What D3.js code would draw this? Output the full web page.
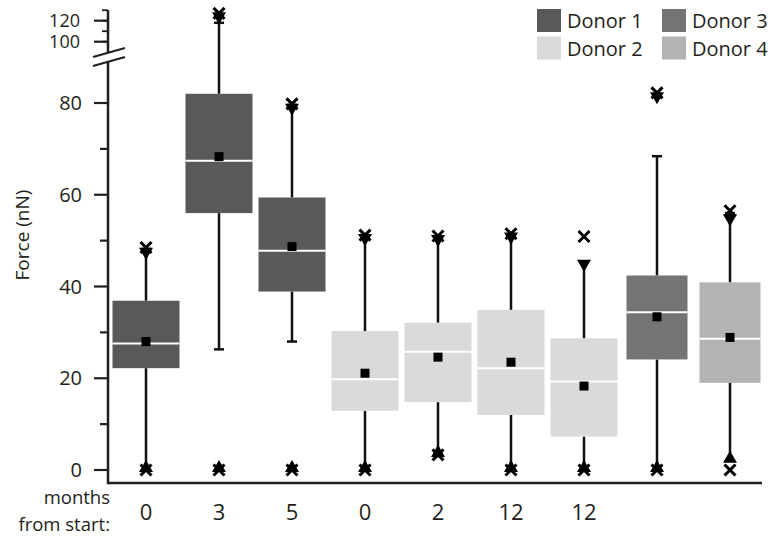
<!DOCTYPE html>
<html lang="en">
<head>
    <meta charset="UTF-8">
    <title>Force by donor</title>
    <script src="https://cdn.jsdelivr.net/npm/d3@7/dist/d3.min.js"></script>
    <style>
        body { margin: 0; background: #fff; }
        text { font-family: "Open Sans", "Liberation Sans", sans-serif; fill: #231f20; }
    </style>
</head>
<body>
    <div id="root"></div>
    <script>
        // one entry per box, left to right
        const donors    = [1, 1, 1, 2, 2, 2, 2, 3, 4];
        const months    = ['0', '3', '5', '0', '2', '12', '12', '', ''];
        const q1        = [22.2, 56.0, 38.9, 12.9, 14.8, 12.0, 7.3, 24.1, 19.0];
        const median    = [27.6, 67.4, 47.8, 19.8, 25.8, 22.2, 19.3, 34.4, 28.6];
        const q3        = [36.9, 82.0, 59.4, 30.3, 32.1, 34.9, 28.7, 42.4, 40.9];
        const mean      = [28.0, 68.3, 48.7, 21.1, 24.6, 23.5, 18.3, 33.4, 28.9];
        const whiskerLo = [0, 26.3, 28.0, 0, 3.3, 0, 0, 0, 2.0];
        const whiskerHi = [48.2, 118, 79.6, 51.0, 50.9, 51.4, 45.4, 68.4, 56.0];
        const pLo       = [0, 0, 0, 0, 3.3, 0, 0, 0, 2.0];   // up triangle
        const minV      = [0, 0, 0, 0, 3.3, 0, 0, 0, 0];     // x
        const pHi       = [48.0, 126, 79.4, 51.0, 50.8, 51.3, 45.4, 81.9, 55.3]; // down triangle
        const maxV      = [48.5, 127, 79.8, 51.2, 51.0, 51.5, 50.9, 82.2, 56.5]; // x

        const donorNames  = ['Donor 1', 'Donor 2', 'Donor 3', 'Donor 4'];
        const donorColors = ['#59595b', '#d9dadc', '#747476', '#b2b3b5'];
        const lowTicks   = [0, 20, 40, 60, 80];
        const lowMinor   = [10, 30, 50, 70];
        const topTicks   = [100, 120];
        const topMinor   = [100, 110, 120, 130];

        const width = 771, height = 540;
        const axisX = 108, baseY = 483;

        const svg = d3.select('#root').append('svg')
            .attr('width', width)
            .attr('height', height);

        const x = d3.scalePoint()
            .domain(d3.range(donors.length))
            .range([109.5, 766.5])
            .padding(0.5);

        const yLow = d3.scaleLinear().domain([0, 80]).range([470, 103]);
        const yTop = d3.scaleLinear().domain([100, 130]).range([41.7, 10.2]);
        const yPos = v => v > 95 ? yTop(v) : yLow(v);

        const color = d3.scaleOrdinal().domain([1, 2, 3, 4]).range(donorColors);
        const boxW = d => d >= 3 ? 61 : 67;

        // axes lines
        svg.append('line')
            .attr('x1', axisX).attr('x2', 762)
            .attr('y1', baseY).attr('y2', baseY)
            .attr('stroke', '#231f20').attr('stroke-width', 2.5);
        svg.append('line')
            .attr('x1', axisX).attr('x2', axisX)
            .attr('y1', baseY + 1.2).attr('y2', 62)
            .attr('stroke', '#231f20').attr('stroke-width', 2.5);
        svg.append('line')
            .attr('x1', axisX).attr('x2', axisX)
            .attr('y1', 52).attr('y2', yTop(130))
            .attr('stroke', '#231f20').attr('stroke-width', 2.5);

        // lower ticks
        svg.selectAll('.tick-major').data(lowTicks).enter().append('line')
            .attr('x1', 94).attr('x2', axisX)
            .attr('y1', d => yLow(d)).attr('y2', d => yLow(d))
            .attr('stroke', '#231f20').attr('stroke-width', 2.2);
        svg.selectAll('.tick-minor').data(lowMinor).enter().append('line')
            .attr('x1', 100).attr('x2', axisX)
            .attr('y1', d => yLow(d)).attr('y2', d => yLow(d))
            .attr('stroke', '#231f20').attr('stroke-width', 2.2);
        svg.selectAll('.lab-low').data(lowTicks).enter().append('text')
            .attr('x', 82).attr('y', d => yLow(d) + 7)
            .attr('text-anchor', 'end')
            .attr('font-size', 20)
            .text(d => d);

        // upper ticks
        svg.selectAll('.tick-top').data(topTicks).enter().append('line')
            .attr('x1', 94).attr('x2', axisX)
            .attr('y1', d => yTop(d)).attr('y2', d => yTop(d))
            .attr('stroke', '#231f20').attr('stroke-width', 2.2);
        svg.selectAll('.tick-top-minor').data(topMinor).enter().append('line')
            .attr('x1', axisX).attr('x2', axisX - 6)
            .attr('y1', d => yTop(d)).attr('y2', d => yTop(d))
            .attr('stroke', '#231f20').attr('stroke-width', 1.8);
        svg.selectAll('.lab-top').data(topTicks).enter().append('text')
            .attr('x', 80).attr('y', d => yTop(d) + 6)
            .attr('text-anchor', 'end')
            .attr('font-size', 18)
            .text(d => d);

        // axis break
        svg.append('polygon')
            .attr('points', '93,57 125,48 125,57 93,66')
            .attr('fill', '#fff');
        svg.append('line')
            .attr('x1', 93).attr('y1', 57).attr('x2', 125).attr('y2', 48)
            .attr('stroke', '#231f20').attr('stroke-width', 2.2);
        svg.append('line')
            .attr('x1', 93).attr('y1', 66).attr('x2', 125).attr('y2', 57)
            .attr('stroke', '#231f20').attr('stroke-width', 2.2);

        // y label
        svg.append('text')
            .attr('transform', 'translate(29,235) rotate(-90)')
            .attr('text-anchor', 'middle')
            .attr('font-size', 19)
            .text('Force (nN)');

        const idx = d3.range(donors.length);
        const g = svg.append('g');

        // whiskers
        g.selectAll('.wh-hi').data(idx).enter().append('line')
            .attr('x1', i => x(i)).attr('x2', i => x(i))
            .attr('y1', i => yPos(q3[i])).attr('y2', i => yPos(whiskerHi[i]))
            .attr('stroke', '#111').attr('stroke-width', 2.5);
        g.selectAll('.wh-lo').data(idx).enter().append('line')
            .attr('x1', i => x(i)).attr('x2', i => x(i))
            .attr('y1', i => yPos(q1[i])).attr('y2', i => yPos(whiskerLo[i]))
            .attr('stroke', '#111').attr('stroke-width', 2.5);
        g.selectAll('.cap').data(idx.flatMap(i => [[i, whiskerHi[i]], [i, whiskerLo[i]]])).enter().append('line')
            .attr('x1', d => x(d[0]) - 5).attr('x2', d => x(d[0]) + 5)
            .attr('y1', d => yPos(d[1])).attr('y2', d => yPos(d[1]))
            .attr('stroke', '#111').attr('stroke-width', 2.5);

        // boxes
        g.selectAll('.box').data(idx).enter().append('rect')
            .attr('x', i => x(i) - boxW(donors[i]) / 2)
            .attr('width', i => boxW(donors[i]))
            .attr('y', i => yPos(q3[i]))
            .attr('height', i => yPos(q1[i]) - yPos(q3[i]))
            .attr('fill', i => color(donors[i]));
        g.selectAll('.med').data(idx).enter().append('line')
            .attr('x1', i => x(i) - boxW(donors[i]) / 2)
            .attr('x2', i => x(i) + boxW(donors[i]) / 2)
            .attr('y1', i => yPos(median[i])).attr('y2', i => yPos(median[i]))
            .attr('stroke', '#fff').attr('stroke-width', 2);
        g.selectAll('.mean').data(idx).enter().append('rect')
            .attr('x', i => x(i) - 4.5).attr('y', i => yPos(mean[i]) - 4.5)
            .attr('width', 9).attr('height', 9)
            .attr('fill', '#000');

        // markers
        const tri = d3.symbol().type(d3.symbolTriangle).size(85);
        g.selectAll('.p-lo').data(idx).enter().append('path')
            .attr('d', tri)
            .attr('transform', i => `translate(${x(i)},${yPos(pLo[i]) - 2})`)
            .attr('fill', '#000');
        g.selectAll('.p-hi').data(idx).enter().append('path')
            .attr('d', tri)
            .attr('transform', i => `translate(${x(i)},${yPos(pHi[i]) + 2}) rotate(180)`)
            .attr('fill', '#000');
        const cross = (cx, cy) => `M${cx - 5.5},${cy - 5.5}L${cx + 5.5},${cy + 5.5}M${cx - 5.5},${cy + 5.5}L${cx + 5.5},${cy - 5.5}`;
        g.selectAll('.mx').data(idx.flatMap(i => [[i, maxV[i]], [i, minV[i]]])).enter().append('path')
            .attr('d', d => cross(x(d[0]), yPos(d[1])))
            .attr('stroke', '#000').attr('stroke-width', 3)
            .attr('fill', 'none');

        // month labels
        svg.selectAll('.month').data(idx).enter().append('text')
            .attr('x', i => x(i)).attr('y', 520)
            .attr('text-anchor', 'middle')
            .attr('font-size', 22)
            .text(i => months[i]);
        svg.append('text')
            .attr('x', 110).attr('y', 504)
            .attr('text-anchor', 'end').attr('font-size', 18.5)
            .text('months');
        svg.append('text')
            .attr('x', 110).attr('y', 531)
            .attr('text-anchor', 'end').attr('font-size', 18.5)
            .text('from start:');

        // legend
        const legend = svg.append('g').selectAll('g').data(donorNames).enter().append('g')
            .attr('transform', (d, i) => `translate(${537 + Math.floor(i / 2) * 125},${9 + (i % 2) * 27.5})`);
        legend.append('rect')
            .attr('width', 24).attr('height', 23)
            .attr('fill', (d, i) => donorColors[i]);
        legend.append('text')
            .attr('x', 30).attr('y', 19)
            .attr('font-size', 20)
            .text(d => d);
    </script>
</body>
</html>
